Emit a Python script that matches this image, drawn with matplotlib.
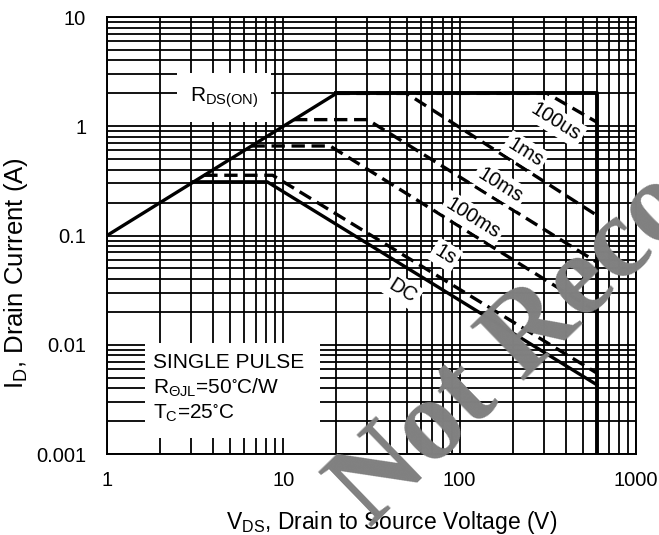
import numpy as np
import matplotlib
matplotlib.use('Agg')
import matplotlib.pyplot as plt
from matplotlib.ticker import LogLocator, NullFormatter, FixedLocator, FixedFormatter
from matplotlib.patches import Rectangle

plt.rcParams['font.family'] = ['Liberation Sans', 'DejaVu Sans']
plt.rcParams['mathtext.fontset'] = 'custom'
plt.rcParams['mathtext.rm'] = 'Liberation Sans'
plt.rcParams['mathtext.it'] = 'Liberation Sans'
plt.rcParams['mathtext.default'] = 'regular'

# safe operating area curves (V, A)
rds_v = [1, 20]
rds_i = [0.1, 2]
lim_v = [20, 600, 600]
lim_i = [2, 2, 0.001]
us100_v = [20, 313, 600]
us100_i = [2, 2, 1.09]
ms1_v = [20, 50, 600]
ms1_i = [2, 2, 0.153]
ms10_v = [11.5, 30, 600]
ms10_i = [1.15, 1.15, 0.057]
ms100_v = [6.6, 18.4, 600]
ms100_i = [0.66, 0.66, 0.020]
s1_v = [3.56, 8.7, 600]
s1_i = [0.356, 0.356, 0.0055]
dc_v = [3.1, 8.1, 600]
dc_i = [0.31, 0.31, 0.0043]

# curve labels and where they sit
lab_txt = ['100us', '1ms', '10ms', '100ms', '1s', 'DC']
lab_v = [352, 235, 169, 119, 82.6, 47.7]
lab_i = [1.09, 0.578, 0.288, 0.144, 0.066, 0.031]

xticks = [1, 10, 100, 1000]
xlabels = ['1', '10', '100', '1000']
yticks = [0.001, 0.01, 0.1, 1, 10]
ylabels = ['0.001', '0.01', '0.1', '1', '10']

fig = plt.figure(figsize=(6.59, 5.35), dpi=100)
ax = fig.add_axes([0.1624, 0.1514, 0.8027, 0.8168])
ax.set_xscale('log')
ax.set_yscale('log')
ax.set_xlim(1, 1000)
ax.set_ylim(0.001, 10)

ax.xaxis.set_major_locator(FixedLocator(xticks))
ax.xaxis.set_major_formatter(FixedFormatter(xlabels))
ax.yaxis.set_major_locator(FixedLocator(yticks))
ax.yaxis.set_major_formatter(FixedFormatter(ylabels))
ax.xaxis.set_minor_locator(LogLocator(base=10, subs=np.arange(2, 10), numticks=20))
ax.yaxis.set_minor_locator(LogLocator(base=10, subs=np.arange(2, 10), numticks=20))
ax.xaxis.set_minor_formatter(NullFormatter())
ax.yaxis.set_minor_formatter(NullFormatter())
ax.tick_params(which='both', length=0, labelsize=14.5)
ax.tick_params(axis='x', pad=12)
ax.tick_params(axis='y', pad=15)
ax.grid(which='both', color='black', lw=1.3, zorder=1)
ax.set_axisbelow(True)
for s in ax.spines.values():
    s.set_linewidth(1.4)

lw = 2.4
ax.plot(rds_v, rds_i, color='black', lw=lw, zorder=3)
ax.plot(lim_v, lim_i, color='black', lw=lw + 0.4, zorder=3)
ax.plot(dc_v, dc_i, color='black', lw=lw, zorder=3)
for v, i in [(us100_v, us100_i), (ms1_v, ms1_i), (ms10_v, ms10_i),
             (ms100_v, ms100_i), (s1_v, s1_i)]:
    ax.plot(v, i, color='black', lw=lw, ls=(0, (4, 2)), zorder=3)

for t, v, i in zip(lab_txt, lab_v, lab_i):
    ax.text(v, i, t, fontsize=14.5, rotation=-32, ha='center', va='center',
            rotation_mode='anchor', zorder=5,
            bbox=dict(boxstyle='square,pad=0.15', fc='white', ec='none'))

# R_DS(ON) label
ax.text(4.6, 1.84, r'R$_{DS(ON)}$', fontsize=15, ha='center', va='center', zorder=5,
        bbox=dict(boxstyle='square,pad=0.6', fc='white', ec='none'))

# conditions box
ax.add_patch(Rectangle((0.0718, 0.0366), 0.331, 0.2174, transform=ax.transAxes,
                       fc='white', ec='none', zorder=4))
ax.text(0.087, 0.149, 'SINGLE PULSE\nR$_{ΘJL}$=50$^{\\circ}$C/W\nT$_{C}$=25$^{\\circ}$C',
        transform=ax.transAxes, fontsize=15, ha='left', va='center',
        linespacing=1.25, zorder=5)

ax.set_xlabel(r'V$_{DS}$, Drain to Source Voltage (V)', fontsize=16.5)
ax.set_ylabel(r'I$_{D}$, Drain Current (A)', fontsize=18.5)
ax.xaxis.set_label_coords(0.5 + 20 / 529, -0.125)
ax.yaxis.set_label_coords(-0.145, 0.5 - 38 / 437)

# watermark
fig.text(0.562, 0.012, 'Not Recommended', fontsize=84, family='Liberation Serif',
         weight='bold', color='#808080', rotation=44, rotation_mode='anchor',
         ha='left', va='baseline', zorder=10)

fig.savefig('out.png', dpi=100)
